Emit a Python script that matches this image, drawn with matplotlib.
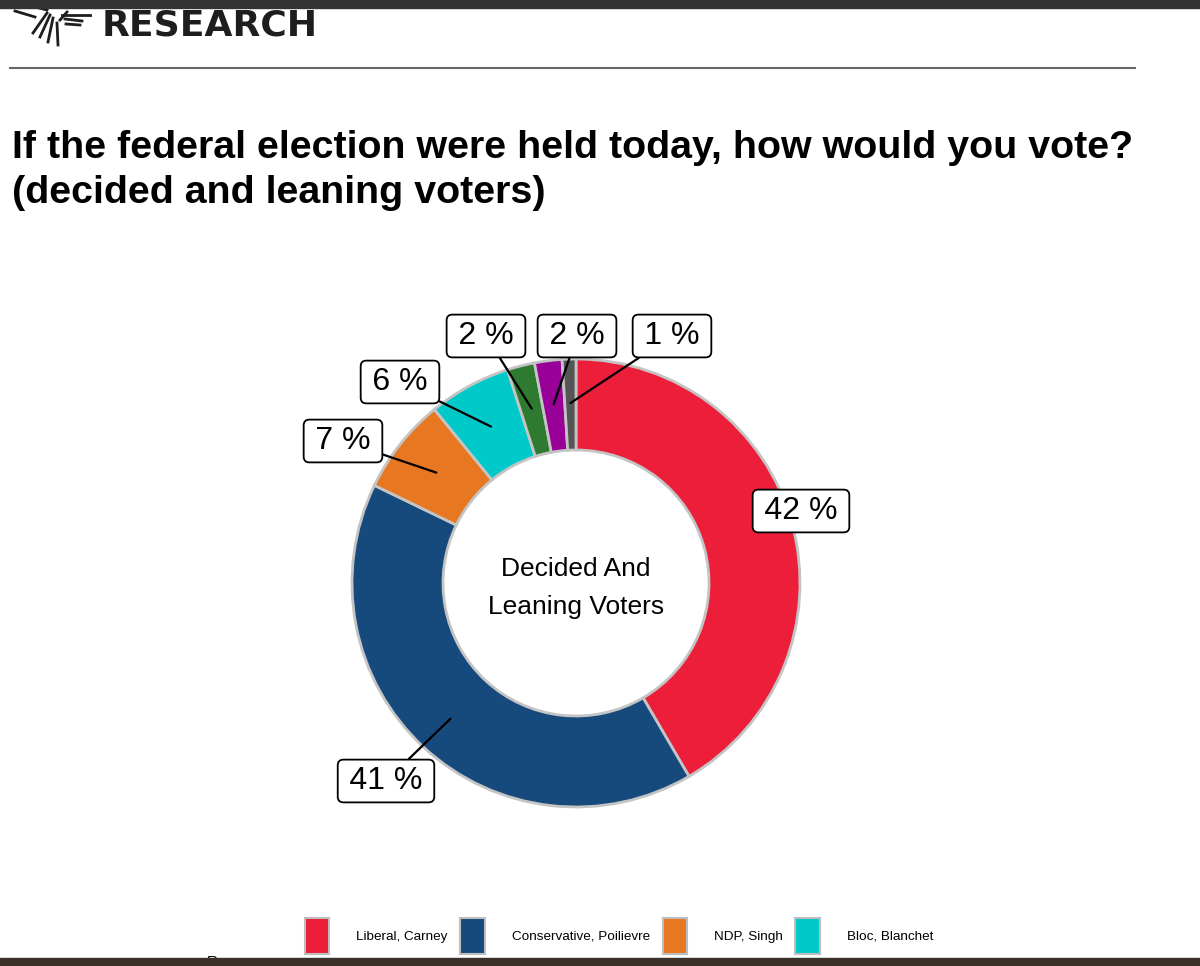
import matplotlib.pyplot as plt
from matplotlib.patches import Patch, Rectangle
import numpy as np

# data
parties = ['Liberal, Carney', 'Conservative, Poilievre', 'NDP, Singh', 'Bloc, Blanchet',
           'Green', 'PPC', 'Other']
shares = [42, 41, 7, 6, 2, 2, 1]
colors = ['#ec1e3a', '#174a7c', '#e87722', '#00c9c9', '#2e7a31', '#980098', '#555555']
label_text = ['42 %', '41 %', '7 %', '6 %', '2 %', '2 %', '1 %']
legend_count = 4

# layout (pixel coords, y down)
W, H = 1200, 966
cx, cy = 576, 583
r_out, ring_w = 224, 91
label_pos = [(801, 511), (386, 781), (343, 441), (400, 382), (486, 336), (577, 336), (672, 336)]
anchor_r = [260, 185, 178, 178, 180, 180, 180]

plt.rcParams['font.family'] = ['Liberation Sans', 'DejaVu Sans']

fig = plt.figure(figsize=(W / 100, H / 100), dpi=100)
ax = fig.add_axes([0, 0, 1, 1])


def fy(y):
    return H - y


ax.pie(shares, colors=colors, radius=r_out, center=(cx, fy(cy)), startangle=90,
       counterclock=False, wedgeprops=dict(width=ring_w, edgecolor='#c4c4c4', linewidth=2))
ax.set_xlim(0, W)
ax.set_ylim(0, H)
ax.set_aspect('equal')
ax.axis('off')

# labels with leader lines
total = sum(shares)
cum = np.cumsum([0] + shares)
for i, txt in enumerate(label_text):
    mid = (cum[i] + cum[i + 1]) / 2 / total * 2 * np.pi
    ax_x = cx + anchor_r[i] * np.sin(mid)
    ax_y = fy(cy - anchor_r[i] * np.cos(mid))
    lx, ly = label_pos[i]
    ax.annotate('\u2006' + txt + '\u2006', xy=(ax_x, ax_y), xytext=(lx, fy(ly)), ha='center', va='center',
                fontsize=23, color='black', zorder=5,
                bbox=dict(boxstyle='round,pad=0.2,rounding_size=0.18', fc='white', ec='black', lw=1.3),
                arrowprops=dict(arrowstyle='-', color='black', lw=1.6, shrinkA=0, shrinkB=0))

ax.text(cx, fy(cy + 5), 'Decided And\nLeaning Voters', ha='center', va='center',
        fontsize=19, linespacing=1.7)

# title
fig.text(12 / W, fy(130) / H, 'If the federal election were held today, how would you vote?\n(decided and leaning voters)',
         ha='left', va='top', fontsize=28.4, fontweight='bold', linespacing=1.32)

# header
ax.add_patch(Rectangle((0, fy(8)), W, 8, color='#333333', zorder=10))
ax.add_patch(Rectangle((0, 0), W, 8, color='#3b302a', zorder=10))
ax.plot([10, 1135], [fy(68), fy(68)], color='#666666', lw=1.5)
ax.text(102, fy(25), 'RESEARCH', ha='left', va='center', fontsize=26, fontweight='bold',
        family='DejaVu Sans', color='#1e1e1e')
# logo mark
for (x0, y0, x1, y1) in [(15, 11, 35, 17), (35, 7, 47, 10), (47, 13, 33, 33), (50, 15, 40, 37),
                         (53, 18, 48, 42), (57, 23, 58, 45), (60, 20, 67, 12),
                         (62, 15, 90, 15), (65, 19, 82, 21), (66, 24, 80, 25)]:
    ax.plot([x0, x1], [fy(y0), fy(y1)], color='#1e1e1e', lw=2)

ax.text(207, fy(962), 'Response', ha='left', va='center', fontsize=11, zorder=1)

# legend
handles = [Patch(facecolor=colors[i], edgecolor='#bdbdbd', linewidth=1.5, label=parties[i])
           for i in range(legend_count)]
fig.legend(handles=handles, loc='center', bbox_to_anchor=(619 / W, fy(936) / H), ncol=legend_count,
           frameon=False, fontsize=9.7, handlelength=1.8, handleheight=3.8, handletextpad=2.0,
           columnspacing=0.95)

fig.savefig('out.png', dpi=100)
